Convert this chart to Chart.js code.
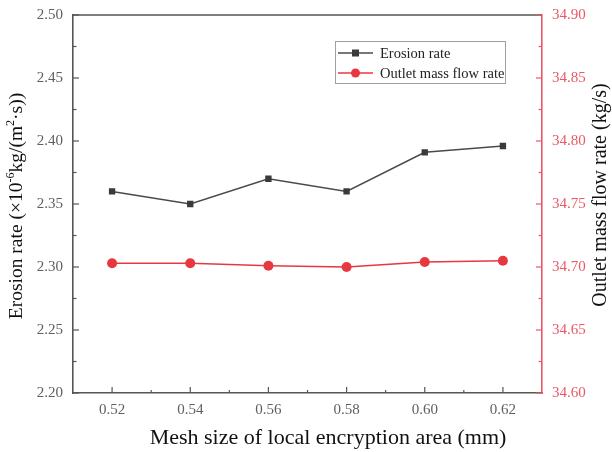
<!DOCTYPE html>
<html>
<head>
<meta charset="utf-8">
<script src="https://cdn.jsdelivr.net/npm/chart.js@4.4.1/dist/chart.umd.min.js"></script>
<style>
  html, body { margin: 0; padding: 0; background: #fff; }
  #wrap { width: 612px; height: 452px; }
</style>
</head>
<body>
<div id="wrap"><canvas id="meshChart" width="612" height="452"></canvas></div>
<script>
const meshSizes = ['0.52', '0.54', '0.56', '0.58', '0.60', '0.62'];
const erosionRate = [2.36, 2.35, 2.37, 2.36, 2.391, 2.396];
const outletFlow = [34.703, 34.703, 34.701, 34.700, 34.704, 34.705];
const erosionTicks = [2.20, 2.25, 2.30, 2.35, 2.40, 2.45, 2.50];
const flowTicks = [34.60, 34.65, 34.70, 34.75, 34.80, 34.85, 34.90];

const SERIF = '"Liberation Serif", "Times New Roman", serif';
const AXIS_GRAY = '#555';
const LABEL_GRAY = '#606060';
const RED = '#e8383f';
const RED_AXIS = '#ea5865';

// draws rich text (with superscripts) starting at x, vertical middle at y
function richText(ctx, parts, size, x, y) {
    let cx = x;
    parts.forEach(p => {
        const s = p.sup ? size * 0.62 : size;
        ctx.font = s + 'px ' + SERIF;
        ctx.fillText(p.t, cx, p.sup ? y - size * 0.32 : y);
        cx += ctx.measureText(p.t).width;
    });
}
function richWidth(ctx, parts, size) {
    let w = 0;
    parts.forEach(p => {
        ctx.font = (p.sup ? size * 0.62 : size) + 'px ' + SERIF;
        w += ctx.measureText(p.t).width;
    });
    return w;
}

// fixed axis box sizes, no extra label overhang padding
function fixBox(size) {
    return function (s) {
        if (s.isHorizontal()) s.height = size; else s.width = size;
        s.paddingTop = 0; s.paddingBottom = 0;
        s.paddingLeft = 0; s.paddingRight = 0;
    };
}

const framePlugin = {
    id: 'frame',
    afterDraw(chart) {
        const ctx = chart.ctx;
        const a = chart.chartArea;
        const x = chart.scales.x, yl = chart.scales.y, yr = chart.scales.y1;
        ctx.save();

        // top border
        ctx.strokeStyle = AXIS_GRAY;
        ctx.lineWidth = 1.6;
        ctx.beginPath();
        ctx.moveTo(a.left, a.top);
        ctx.lineTo(a.right, a.top);
        ctx.stroke();

        // inward ticks, left axis
        ctx.lineWidth = 1.2;
        ctx.strokeStyle = AXIS_GRAY;
        erosionTicks.forEach((v, i) => {
            const py = yl.getPixelForValue(v);
            ctx.beginPath(); ctx.moveTo(a.left, py); ctx.lineTo(a.left + 6, py); ctx.stroke();
            if (i < erosionTicks.length - 1) {
                const pm = yl.getPixelForValue((v + erosionTicks[i + 1]) / 2);
                ctx.beginPath(); ctx.moveTo(a.left, pm); ctx.lineTo(a.left + 3.5, pm); ctx.stroke();
            }
        });
        // bottom axis
        meshSizes.forEach((c, i) => {
            const px = x.getPixelForValue(i);
            ctx.beginPath(); ctx.moveTo(px, a.bottom); ctx.lineTo(px, a.bottom - 6); ctx.stroke();
            if (i < meshSizes.length - 1) {
                const pm = x.getPixelForValue(i + 0.5);
                ctx.beginPath(); ctx.moveTo(pm, a.bottom); ctx.lineTo(pm, a.bottom - 3); ctx.stroke();
            }
        });
        // right axis
        ctx.strokeStyle = RED_AXIS;
        flowTicks.forEach((v, i) => {
            const py = yr.getPixelForValue(v);
            ctx.beginPath(); ctx.moveTo(a.right, py); ctx.lineTo(a.right - 6, py); ctx.stroke();
            if (i < flowTicks.length - 1) {
                const pm = yr.getPixelForValue((v + flowTicks[i + 1]) / 2);
                ctx.beginPath(); ctx.moveTo(a.right, pm); ctx.lineTo(a.right - 3.5, pm); ctx.stroke();
            }
        });

        // axis titles
        ctx.fillStyle = '#111';
        ctx.textBaseline = 'middle';
        ctx.textAlign = 'left';
        const leftTitle = [
            { t: 'Erosion rate (×10' }, { t: '-6', sup: true },
            { t: 'kg/(m' }, { t: '2', sup: true }, { t: '·s))' }
        ];
        ctx.save();
        ctx.translate(17, 206);
        ctx.rotate(-Math.PI / 2);
        richText(ctx, leftTitle, 19.5, -richWidth(ctx, leftTitle, 19.5) / 2, 0);
        ctx.restore();

        ctx.save();
        ctx.translate(601, 195);
        ctx.rotate(-Math.PI / 2);
        ctx.font = '20px ' + SERIF;
        ctx.textAlign = 'center';
        ctx.fillText('Outlet mass flow rate (kg/s)', 0, 0);
        ctx.restore();

        ctx.font = '22px ' + SERIF;
        ctx.textAlign = 'center';
        ctx.fillText('Mesh size of local encryption area (mm)', 328, 438);

        // legend box
        const lx = 335, ly = 41, lw = 170, lh = 42;
        ctx.strokeStyle = '#a0a0a0';
        ctx.lineWidth = 1;
        ctx.strokeRect(lx + 0.5, ly + 0.5, lw, lh);
        chart.data.datasets.forEach((ds, i) => {
            const ry = ly + 12 + i * 20;
            ctx.strokeStyle = ds.borderColor;
            ctx.lineWidth = 1.5;
            ctx.beginPath(); ctx.moveTo(lx + 3, ry); ctx.lineTo(lx + 38, ry); ctx.stroke();
            ctx.fillStyle = ds.pointBackgroundColor;
            if (ds.pointStyle === 'rect') {
                ctx.fillRect(lx + 17, ry - 3.5, 7, 7);
            } else {
                ctx.beginPath(); ctx.arc(lx + 20.5, ry, 4.5, 0, Math.PI * 2); ctx.fill();
            }
            ctx.fillStyle = '#222';
            ctx.font = '14.5px ' + SERIF;
            ctx.textAlign = 'left';
            ctx.fillText(ds.label, lx + 45, ry + 1);
        });
        ctx.restore();
    }
};

new Chart(document.getElementById('meshChart').getContext('2d'), {
    type: 'line',
    data: {
        labels: meshSizes,
        datasets: [
            {
                label: 'Erosion rate',
                data: erosionRate,
                yAxisID: 'y',
                borderColor: '#4a4a4a',
                borderWidth: 1.5,
                pointStyle: 'rect',
                pointRadius: 4.5,
                pointBackgroundColor: '#3a3a3a',
                pointBorderColor: '#3a3a3a',
                pointBorderWidth: 0,
                tension: 0
            },
            {
                label: 'Outlet mass flow rate',
                data: outletFlow,
                yAxisID: 'y1',
                borderColor: RED,
                borderWidth: 1.5,
                pointStyle: 'circle',
                pointRadius: 5,
                pointBackgroundColor: RED,
                pointBorderColor: RED,
                pointBorderWidth: 0,
                tension: 0
            }
        ]
    },
    options: {
        responsive: false,
        animation: false,
        events: [],
        layout: { padding: { top: 15, left: 0, right: 0, bottom: 0 } },
        plugins: { legend: { display: false }, tooltip: { enabled: false } },
        scales: {
            x: {
                type: 'category',
                offset: true,
                grid: { display: false, drawTicks: false },
                border: { display: true, color: AXIS_GRAY, width: 1.6 },
                ticks: {
                    color: LABEL_GRAY,
                    padding: 8,
                    maxRotation: 0,
                    font: { family: SERIF, size: 15 }
                },
                afterFit: fixBox(59)
            },
            y: {
                position: 'left',
                min: 2.20,
                max: 2.50,
                grid: { display: false, drawTicks: false },
                border: { display: true, color: AXIS_GRAY, width: 1.6 },
                afterBuildTicks(s) { s.ticks = erosionTicks.map(v => ({ value: v })); },
                ticks: {
                    color: LABEL_GRAY,
                    padding: 10,
                    font: { family: SERIF, size: 15 },
                    callback: v => Number(v).toFixed(2)
                },
                afterFit: fixBox(73)
            },
            y1: {
                position: 'right',
                min: 34.60,
                max: 34.90,
                grid: { display: false, drawTicks: false },
                border: { display: true, color: RED_AXIS, width: 1.6 },
                afterBuildTicks(s) { s.ticks = flowTicks.map(v => ({ value: v })); },
                ticks: {
                    color: RED_AXIS,
                    padding: 10,
                    font: { family: SERIF, size: 15 },
                    callback: v => Number(v).toFixed(2)
                },
                afterFit: fixBox(70)
            }
        }
    },
    plugins: [framePlugin]
});
</script>
</body>
</html>
